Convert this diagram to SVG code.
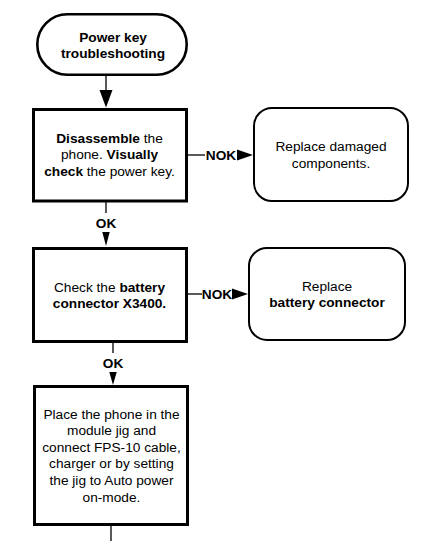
<svg xmlns="http://www.w3.org/2000/svg" width="437" height="541" viewBox="0 0 437 541">
<style>
text{font-family:"Liberation Sans",Arial,sans-serif;font-size:13.7px;fill:#000;text-anchor:middle}
.b{font-weight:bold}
.proc{fill:#fff;stroke:#000;stroke-width:3}
.term{fill:#fff;stroke:#000;stroke-width:2.6}
.res{fill:#fff;stroke:#000;stroke-width:2}
.ln{stroke:#000;stroke-width:1.3;fill:none}
.ah{fill:#000;stroke:none}
</style>
<rect width="437" height="541" fill="#fff"/>
<g id="connectors">
<line class="ln" x1="106" y1="76" x2="106" y2="92"/>
<polygon class="ah" points="99.5,90 112.5,90 106,107.5"/>
<line class="ln" x1="188" y1="155" x2="205" y2="155"/>
<text class="b" x="221" y="159.8">NOK</text>
<polygon class="ah" points="237,149.5 237,160.5 253,155"/>
<line class="ln" x1="106" y1="202" x2="106" y2="213"/>
<text class="b" x="106" y="227.5">OK</text>
<polygon class="ah" points="102.3,232 109.7,232 106,246"/>
<line class="ln" x1="188" y1="294" x2="202" y2="294"/>
<text class="b" x="217" y="298.8">NOK</text>
<polygon class="ah" points="232,288.5 232,299.5 248,294"/>
<line class="ln" x1="113" y1="343" x2="113" y2="353"/>
<text class="b" x="113" y="367.5">OK</text>
<polygon class="ah" points="109.3,372 116.7,372 113,385"/>
<line class="ln" x1="111" y1="526" x2="111" y2="541"/>
</g>
<g id="start">
<rect class="term" x="37.3" y="14.3" width="149.4" height="60.4" rx="30.2"/>
<text class="b" x="113" y="42">Power key</text>
<text class="b" x="113" y="58">troubleshooting</text>
</g>
<g id="disassemble">
<rect class="proc" x="33.5" y="109.5" width="153" height="91.5"/>
<text x="109.5" y="142.7"><tspan class="b">Disassemble</tspan> the</text>
<text x="109.5" y="159.4">phone. <tspan class="b">Visually</tspan></text>
<text x="109.5" y="176.1"><tspan class="b">check</tspan> the power key.</text>
</g>
<g id="replace-components">
<rect class="res" x="254" y="108" width="154" height="93" rx="18"/>
<text x="331" y="151.3">Replace damaged</text>
<text x="331" y="168">components.</text>
</g>
<g id="check-battery">
<rect class="proc" x="33.5" y="248.5" width="153" height="93"/>
<text x="109.5" y="291.7">Check the <tspan class="b">battery</tspan></text>
<text x="109.5" y="307.6" class="b">connector X3400.</text>
</g>
<g id="replace-battery">
<rect class="res" x="249" y="248" width="156" height="92" rx="18"/>
<text x="327" y="290.5">Replace</text>
<text x="327" y="307" class="b">battery connector</text>
</g>
<g id="module-jig">
<rect class="proc" x="34.5" y="386.5" width="153" height="138"/>
<text x="111.5" y="418.5">Place the phone in the</text>
<text x="111.5" y="435.1">module jig and</text>
<text x="111.5" y="451.7">connect FPS-10 cable,</text>
<text x="111.5" y="468.3">charger or by setting</text>
<text x="111.5" y="484.9">the jig to Auto power</text>
<text x="111.5" y="501.5">on-mode.</text>
</g>
</svg>
